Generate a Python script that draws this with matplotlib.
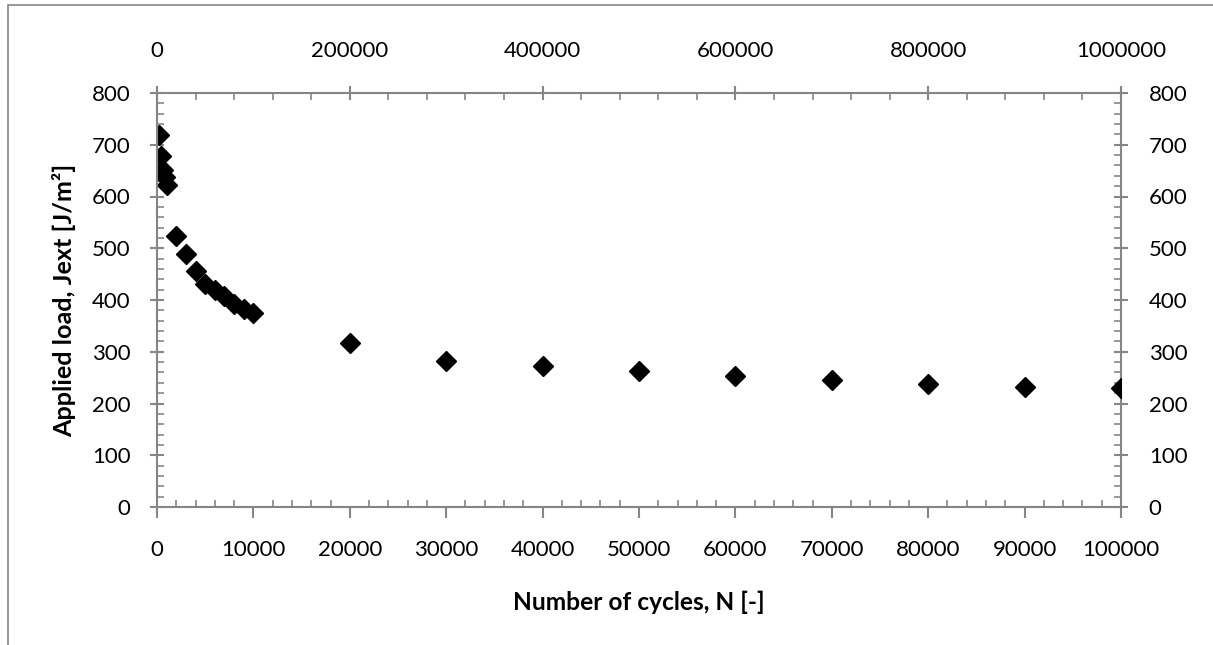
import matplotlib
matplotlib.use('Agg')
import matplotlib.pyplot as plt
from matplotlib.ticker import MultipleLocator, FixedLocator, FuncFormatter
from matplotlib.patches import Rectangle

plt.rcParams['font.family'] = ['Lato', 'DejaVu Sans']

# number of cycles and applied load
cycles = [200, 400, 600, 800, 1000, 2000, 3000, 4000, 5000, 6000, 7000, 8000, 9000, 10000,
          20000, 30000, 40000, 50000, 60000, 70000, 80000, 90000, 100000]
load = [719, 679, 652, 638, 622, 524, 489, 457, 431, 420, 407, 393, 383, 375,
        316, 282, 273, 263, 253, 245, 237, 232, 229]

top_ticks = [0, 200000, 400000, 600000, 800000, 1000000]

grey = '#868686'
plain = FuncFormatter(lambda v, pos: '%d' % round(v))

fig = plt.figure(figsize=(12.13, 6.45), dpi=100)
ax = fig.add_axes([157 / 1213, 1 - 507 / 645, 964 / 1213, 414 / 645])

ax.plot(cycles, load, linestyle='none', marker='D', markersize=10, color='black')

ax.set_xlim(0, 100000)
ax.set_ylim(0, 800)
ax.xaxis.set_major_locator(MultipleLocator(10000))
ax.xaxis.set_minor_locator(MultipleLocator(2000))
ax.yaxis.set_major_locator(MultipleLocator(100))
ax.yaxis.set_minor_locator(MultipleLocator(20))
ax.xaxis.set_major_formatter(plain)

ax.set_xlabel('Number of cycles, N [-]', fontsize=15, fontweight='bold', va='center')
ax.set_ylabel('Applied load, Jext [J/m²]', fontsize=15, fontweight='bold', va='center')
ax.xaxis.set_label_coords(0.5, -95 / 414)
ax.yaxis.set_label_coords(-93 / 964, 0.5)

# secondary axes like the Excel chart
top = ax.secondary_xaxis('top', functions=(lambda x: x * 10, lambda x: x / 10))
top.xaxis.set_major_locator(FixedLocator(top_ticks))
top.xaxis.set_minor_locator(FixedLocator(list(range(0, 1000001, 40000))))
top.xaxis.set_major_formatter(plain)
right = ax.secondary_yaxis('right')
right.yaxis.set_major_locator(MultipleLocator(100))
right.yaxis.set_minor_locator(MultipleLocator(20))

for a in (ax, top, right):
    for s in a.spines.values():
        s.set_color(grey)
        s.set_linewidth(1.5)
    a.tick_params(which='major', direction='inout', length=10, width=1.5, color=grey,
                  labelsize=16, labelcolor='black')
    a.tick_params(which='minor', direction='in', length=5, width=1.2, color=grey)

ax.spines['top'].set_visible(False)
ax.spines['right'].set_visible(False)
ax.tick_params(axis='x', which='major', direction='out', length=8, pad=16)
ax.tick_params(axis='y', which='major', pad=14)
top.tick_params(axis='x', which='major', pad=18)
right.tick_params(axis='y', which='major', pad=15)

# size the axis titles to the widths measured on the original
renderer = fig.canvas.get_renderer()
for lab, target, horiz in ((ax.xaxis.label, 253, True), (ax.yaxis.label, 273, False)):
    ext = lab.get_window_extent(renderer)
    cur = ext.width if horiz else ext.height
    lab.set_fontsize(lab.get_fontsize() * target / cur)

# outer chart border
fig.patches.append(Rectangle((8 / 1213, -0.01), 1.2, 1 - 5 / 645 + 0.01, transform=fig.transFigure,
                             fill=False, edgecolor=grey, linewidth=1.2))

fig.savefig('out.png', dpi=100)
